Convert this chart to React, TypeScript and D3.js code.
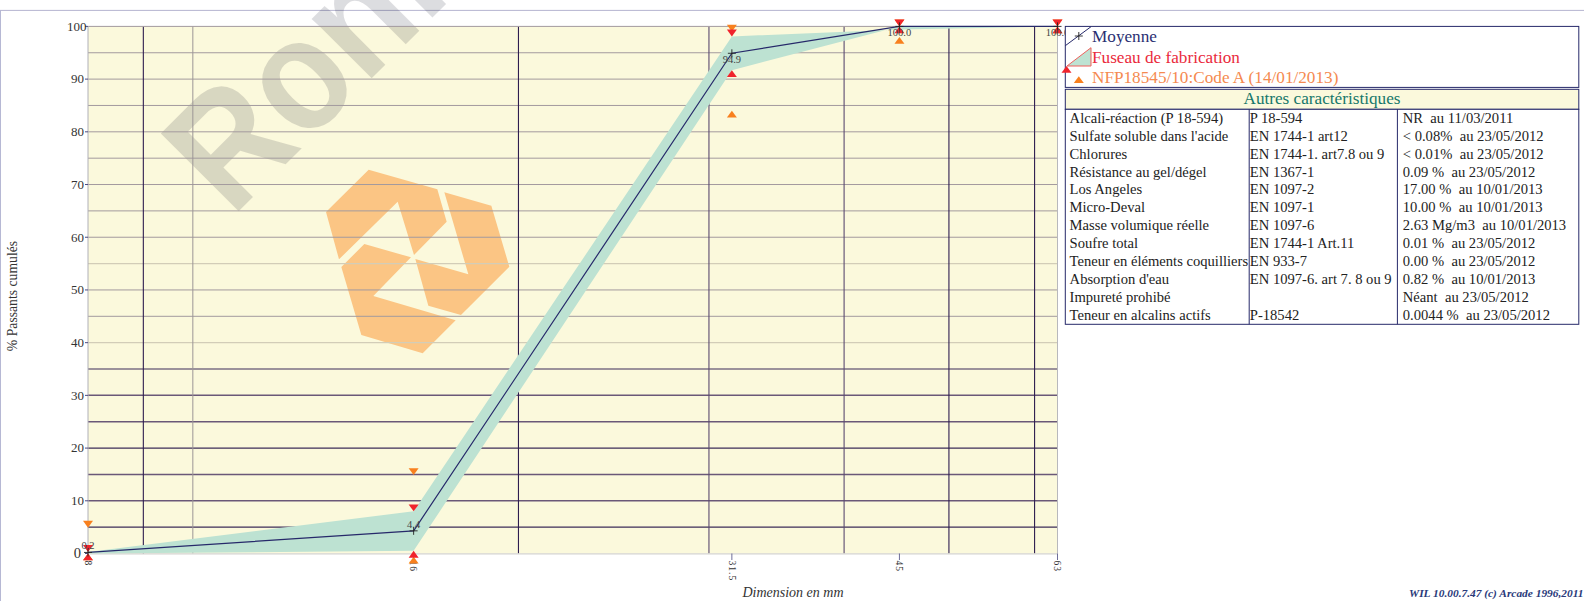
import React from "react";
import * as d3 from "d3";

const sieves = [8, 16, 31.5, 45, 63];
const sieveLabels = ["8", "16", "31.5", "45", "63"];
const mean = [0.2, 4.3, 94.9, 100, 100];
const meanLabels = ["0.2", "4.4", "94.9", "100.0", "100.0"];
const fuseauUpper = [0.3, 8, 98.1, 99.4, 100];
const fuseauLower = [0, 0.5, 91.7, 100, 100];
const limitUpper = [0.3, 8, 98.1, 100, 100];
const limitLower = [0, 0.5, 91.7, 100, 100];
const specUpper = [4.9, 14.9, 99, 100, 100];
const specLower = [0, -0.6, 84, 98, 100];
const yTicks = [0, 10, 20, 30, 40, 50, 60, 70, 80, 90, 100];
const gridDarkV = [9, 20, 50, 60];
const gridMidV = [30, 40];
const gridGreyV = [10];
const gridGreyH = [45, 50, 60, 65, 70, 75, 80, 85, 90, 95];
const gridPaleH = [40, 55];
const gridDarkH = [5, 20, 35];
const gridMidH = [10, 15, 25, 30];

const tableTitle = "Autres caractéristiques";
const col1 = ["Alcali-réaction (P 18-594)", "Sulfate soluble dans l'acide", "Chlorures", "Résistance au gel/dégel", "Los Angeles", "Micro-Deval", "Masse volumique réelle", "Soufre total", "Teneur en éléments coquilliers", "Absorption d'eau", "Impureté prohibé", "Teneur en alcalins actifs"];
const col2 = ["P 18-594", "EN 1744-1 art12", "EN 1744-1. art7.8 ou 9", "EN 1367-1", "EN 1097-2", "EN 1097-1", "EN 1097-6", "EN 1744-1 Art.11", "EN 933-7", "EN 1097-6. art 7. 8 ou 9", "", "P-18542"];
const col3 = ["NR\u00a0 au 11/03/2011", "< 0.08%\u00a0 au 23/05/2012", "< 0.01%\u00a0 au 23/05/2012", "0.09 %\u00a0 au 23/05/2012", "17.00 %\u00a0 au 10/01/2013", "10.00 %\u00a0 au 10/01/2013", "2.63 Mg/m3\u00a0 au 10/01/2013", "0.01 %\u00a0 au 23/05/2012", "0.00 %\u00a0 au 23/05/2012", "0.82 %\u00a0 au 10/01/2013", "Néant\u00a0 au 23/05/2012", "0.0044 %\u00a0 au 23/05/2012"];

const logoShapes = [
  [[176, 29], [382, 88], [410, 185], [312, 285], [263, 125], [87, 298], [48, 156]],
  [[403, 97], [544, 137], [598, 320], [453, 465], [355, 437], [316, 297], [475, 343]],
  [[163, 252], [303, 292], [190, 408], [437, 481], [338, 580], [154, 525], [94, 321]],
];

const x = d3.scaleLog().domain([8, 63]).range([88, 1057.5]);
const y = d3.scaleLinear().domain([0, 100]).range([553.5, 26.4]);

const serif = "'Liberation Serif', serif";
const NAVY = "#26296a";
const RED = "#f0242c";
const ORANGE = "#f8801e";

const tri = (cx: number, tip: number, dir: 1 | -1) => {
  const h = 6.8, w = 5;
  return `M${cx},${tip}L${cx - w},${tip - dir * h}L${cx + w},${tip - dir * h}Z`;
};

export default function App() {
  const idx = sieves.map((_, i) => i);
  const band = d3.area<number>().x((i) => x(sieves[i])).y0((i) => y(fuseauLower[i])).y1((i) => y(fuseauUpper[i]))(idx)!;
  const meanLine = d3.line<number>().x((i) => x(sieves[i])).y((i) => y(mean[i]))(idx)!;
  const hLine = (v: number, c: string, w: number) => (
    <line key={"h" + v} x1={88} x2={1057.5} y1={y(v)} y2={y(v)} stroke={c} strokeWidth={w} />
  );
  const vLine = (v: number, c: string, w: number) => (
    <line key={"v" + v} x1={x(v)} x2={x(v)} y1={26.4} y2={553.5} stroke={c} strokeWidth={w} />
  );
  const labelDy = [-3, -3, 10, 10, 10];
  return (
    <svg width={1584} height={601} style={{ position: "absolute", left: 0, top: 0, display: "block", background: "#fff" }} fontFamily={serif}>
      <line x1={0} x2={1584} y1={10.4} y2={10.4} stroke="#b6b4d0" strokeWidth={1} />
      <line x1={0.5} x2={0.5} y1={10} y2={601} stroke="#b6b8d4" strokeWidth={1} />

      <rect x={88} y={26.4} width={969.5} height={527.1} fill="#fbf9dc" />

      <text transform="translate(232,218) rotate(-45) scale(0.88,1)" fontFamily="'Liberation Sans', sans-serif" fontWeight={700} fontSize={160} fill="#00051e" fillOpacity={0.137}>Ronin</text>
      {logoShapes.map((s, i) => (
        <polygon key={i} points={s.map(([a, b]) => `${310 + a / 3},${160 + b / 3}`).join(" ")} fill="#fbc584" />
      ))}

      {gridGreyH.map((v) => hLine(v, "#a39a9e", 1))}
      {gridPaleH.map((v) => hLine(v, "#d2cdb8", 1.4))}
      {gridMidH.map((v) => hLine(v, "#6a5878", 1.5))}
      {gridDarkH.map((v) => hLine(v, "#3c2c58", 1.2))}
      {gridGreyV.map((v) => vLine(v, "#9c9696", 1))}
      {gridMidV.map((v) => vLine(v, "#5a4a70", 1.1))}
      {gridDarkV.map((v) => vLine(v, "#2e1d50", 1.1))}
      <line x1={88} x2={x(45)} y1={26.4} y2={26.4} stroke="#a39a9e" strokeWidth={1} />
      <line x1={88} x2={88} y1={26.4} y2={553.5} stroke="#b0b0b8" strokeWidth={1} />
      <line x1={1057.5} x2={1057.5} y1={26.4} y2={553.5} stroke="#b8b8bc" strokeWidth={1} />
      <line x1={88} x2={1057.5} y1={553.8} y2={553.8} stroke="#d4d4d0" strokeWidth={1.2} />

      <path d={band} fill="#bde2d2" />
      <path d={meanLine} fill="none" stroke={NAVY} strokeWidth={1.2} />

      {yTicks.map((t) => (
        <g key={t}>
          <line x1={85} x2={88} y1={y(t)} y2={y(t)} stroke="#4a4a80" strokeWidth={1} />
          <text x={t === 100 ? 86.5 : t === 0 ? 81 : 84} y={y(t) + 4.3} textAnchor="end" fontSize={t === 0 ? 14.5 : 13} fill="#333">{t}</text>
        </g>
      ))}
      {sieves.map((s, i) => (
        <g key={s}>
          <line x1={x(s)} x2={x(s)} y1={553.5} y2={560} stroke="#4a4a80" strokeWidth={0.8} />
          <text transform={`translate(${x(s) - 3.2},${560.5}) rotate(90)`} fontSize={9.5} letterSpacing={1} fill="#333">{sieveLabels[i]}</text>
        </g>
      ))}

      {sieves.map((s, i) => (
        <g key={"m" + s}>
          <path d={tri(x(s), y(specUpper[i]), 1)} fill={ORANGE} />
          <path d={tri(x(s), y(specLower[i]), -1)} fill={ORANGE} />
          <path d={tri(x(s), y(limitUpper[i]), 1)} fill={RED} />
          <path d={tri(x(s), y(limitLower[i]), -1)} fill={RED} />
          <path d={`M${x(s) - 4},${y(mean[i])}H${x(s) + 4}M${x(s)},${y(mean[i]) - 4}V${y(mean[i]) + 4}`} stroke="#222" strokeWidth={0.9} fill="none" />
          <text x={x(s)} y={y(mean[i]) + labelDy[i]} textAnchor="middle" fontSize={10.5} fill="#444">{meanLabels[i]}</text>
        </g>
      ))}

      <text transform="translate(17,296) rotate(-90)" textAnchor="middle" fontSize={13.7} fill="#333">% Passants cumulés</text>
      <text x={793} y={597} textAnchor="middle" fontSize={14} fontStyle="italic" fill="#333">Dimension en mm</text>
      <text x={1583.5} y={597} textAnchor="end" fontSize={11.4} fontStyle="italic" fontWeight={700} fill="#2a3a7a">WIL 10.00.7.47 (c) Arcade 1996,2011</text>

      <rect x={1065.3} y={26.4} width={513.5} height={61} fill="#fff" stroke={NAVY} strokeWidth={1} />
      <line x1={1065.3} y1={45.7} x2={1091} y2={26.7} stroke={NAVY} strokeWidth={1} />
      <path d="M1074.8,36H1082.8M1078.8,32V40" stroke="#222" strokeWidth={0.9} fill="none" />
      <polygon points="1067,66 1091,47.7 1091,66" fill="#bde2d2" stroke="#f0605c" strokeWidth={1} />
      <path d={tri(1066.5, 66, -1)} fill={RED} />
      <path d={tri(1078.8, 76.3, -1)} fill={ORANGE} />
      <text x={1092} y={41.7} fontSize={17.2} fill="#2a2f72">Moyenne</text>
      <text x={1092} y={63.3} fontSize={17.2} fill="#ea2a3c">Fuseau de fabrication</text>
      <text x={1092} y={83.3} fontSize={17.2} fill="#f58a50">NFP18545/10:Code A (14/01/2013)</text>

      <rect x={1065.3} y={89.3} width={513.5} height={20} fill="#fbf9dc" stroke={NAVY} strokeWidth={1} />
      <text x={1322} y={104.3} textAnchor="middle" fontSize={17.2} fill="#16776a">{tableTitle}</text>
      <rect x={1065.3} y={109.3} width={513.5} height={215} fill="#fff" stroke={NAVY} strokeWidth={1} />
      <line x1={1249.2} x2={1249.2} y1={109.3} y2={324.3} stroke={NAVY} strokeWidth={1} />
      <line x1={1397.4} x2={1397.4} y1={109.3} y2={324.3} stroke={NAVY} strokeWidth={1} />
      {col1.map((t, i) => (
        <g key={i} fontSize={14.6} fill="#222">
          <text x={1069.6} y={122.7 + i * 17.94}>{t}</text>
          <text x={1249.8} y={122.7 + i * 17.94}>{col2[i]}</text>
          <text x={1402.8} y={122.7 + i * 17.94}>{col3[i]}</text>
        </g>
      ))}
    </svg>
  );
}
